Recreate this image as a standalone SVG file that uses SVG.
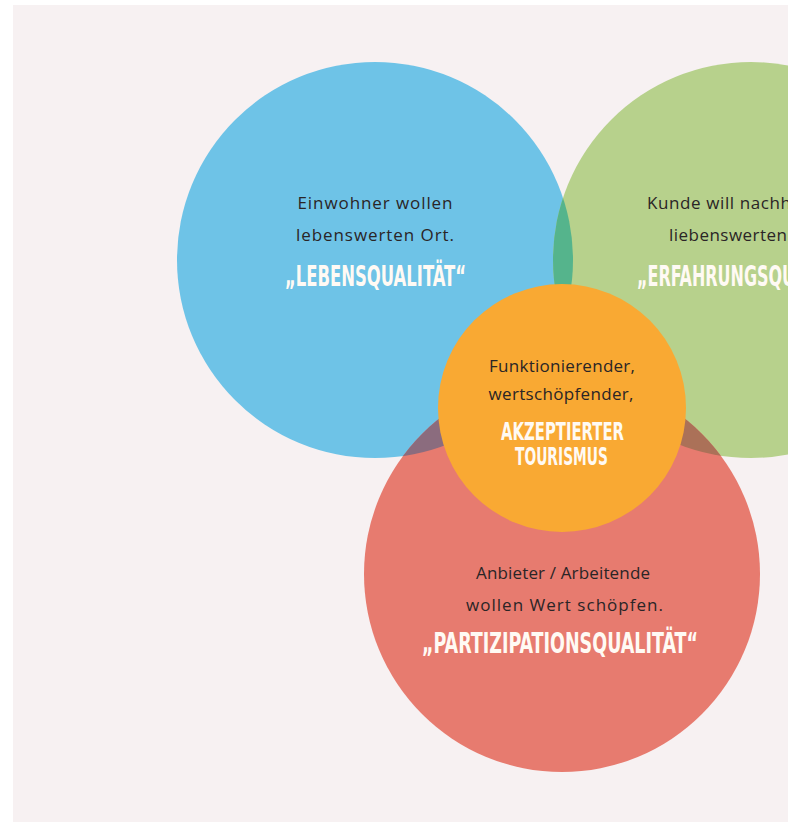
<svg xmlns="http://www.w3.org/2000/svg" width="788" height="822" viewBox="0 0 788 822">
<style>
.body{font-family:"Open Sans","Liberation Sans",sans-serif;font-size:17px;font-weight:400;fill:#2a2526;text-anchor:middle}
.title{font-family:"Liberation Sans Narrow","DejaVu Sans Condensed","Liberation Sans",sans-serif;font-weight:bold;font-size:28px;fill:#fffaf4;text-anchor:middle}
.small{font-size:24px}
.start{text-anchor:start}
</style>
<defs>
<clipPath id="clipBlue"><circle cx="375" cy="260" r="198"/></clipPath>
<clipPath id="clipRed"><circle cx="562" cy="574" r="198"/></clipPath>
</defs>
<rect width="788" height="822" fill="#ffffff"/>
<rect x="13" y="5" width="775" height="817" fill="#f7f1f2"/>

<g id="lebensqualitaet">
<circle cx="375" cy="260" r="198" fill="#6ec3e7"/>
</g>
<g id="erfahrungsqualitaet">
<circle cx="751" cy="260" r="198" fill="#b7d18c"/>
</g>
<g id="partizipationsqualitaet">
<circle cx="562" cy="574" r="198" fill="#e77b6f"/>
</g>
<g id="overlaps">
<circle cx="751" cy="260" r="198" fill="#55b48c" clip-path="url(#clipBlue)"/>
<circle cx="375" cy="260" r="198" fill="#8b6c7e" clip-path="url(#clipRed)"/>
<circle cx="751" cy="260" r="198" fill="#ab7158" clip-path="url(#clipRed)"/>
</g>
<g id="tourismus">
<circle cx="562" cy="408" r="124" fill="#f9a933"/>
</g>

<g id="text-lebensqualitaet">
<text class="body" x="375" y="209" textLength="155" lengthAdjust="spacing">Einwohner wollen</text>
<text class="body" x="375" y="241" textLength="158" lengthAdjust="spacing">lebenswerten Ort.</text>
<text class="title" x="375.5" y="286" textLength="181" lengthAdjust="spacingAndGlyphs">„LEBENSQUALITÄT“</text>
</g>
<g id="text-erfahrungsqualitaet">
<text class="body start" x="647" y="209" textLength="144" lengthAdjust="spacing">Kunde will nachh</text>
<text class="body start" x="669" y="241" textLength="118" lengthAdjust="spacing">liebenswerten</text>
<text class="title start" x="637" y="286" textLength="158" lengthAdjust="spacingAndGlyphs">„ERFAHRUNGSQU</text>
</g>
<g id="text-tourismus">
<text class="body" x="562" y="372" textLength="146" lengthAdjust="spacing">Funktionierender,</text>
<text class="body" x="561" y="400" textLength="145" lengthAdjust="spacing">wertschöpfender,</text>
<text class="title small" x="562.5" y="440" textLength="123" lengthAdjust="spacingAndGlyphs">AKZEPTIERTER</text>
<text class="title small" x="561.5" y="465" textLength="93" lengthAdjust="spacingAndGlyphs">TOURISMUS</text>
</g>
<g id="text-partizipationsqualitaet">
<text class="body" x="563" y="579" textLength="174" lengthAdjust="spacing">Anbieter / Arbeitende</text>
<text class="body" x="564.5" y="611" textLength="197" lengthAdjust="spacing">wollen Wert schöpfen.</text>
<text class="title" x="560" y="653" textLength="276" lengthAdjust="spacingAndGlyphs">„PARTIZIPATIONSQUALITÄT“</text>
</g>
</svg>
